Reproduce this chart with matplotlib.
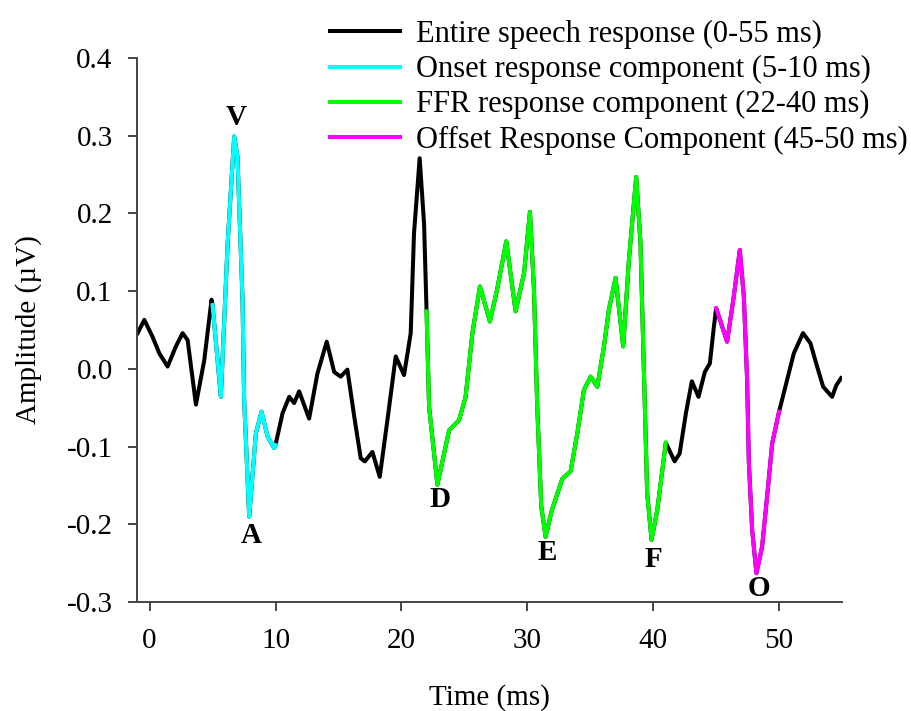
import numpy as np
import matplotlib.pyplot as plt

plt.rcParams['font.family'] = ['Liberation Serif', 'DejaVu Serif']

# waveform (time in ms, amplitude in uV)
time_ms = [-0.95, -0.42, 0.24, 0.77, 1.43, 2.09, 2.62, 3.02, 3.68, 4.34,
           4.92, 5.0, 5.66, 6.2, 6.72, 6.98, 7.38, 7.51, 7.91, 8.44,
           8.89, 9.37, 9.89, 10.0, 10.56, 11.09, 11.48, 11.88, 12.67, 13.33,
           14.07, 14.66, 15.18, 15.71, 16.25, 16.77, 17.09, 17.7, 18.28, 18.89,
           19.55, 20.21, 20.74, 21.0, 21.45, 21.8, 22.0, 22.2, 22.86, 23.79,
           24.58, 25.1, 25.64, 26.24, 27.03, 27.6, 28.33, 29.07, 29.74, 30.21,
           30.53, 30.79, 31.11, 31.45, 31.9, 32.4, 32.8, 33.44, 33.97, 34.5,
           35.03, 35.56, 36.09, 36.48, 37.01, 37.62, 38.07, 38.65, 38.99, 39.31,
           39.52, 39.87, 40.32, 41.0, 41.7, 42.1, 42.6, 43.07, 43.6, 44.1,
           44.5, 44.82, 45.0, 45.87, 46.4, 46.88, 47.2, 47.46, 47.6, 47.86,
           48.2, 48.65, 49.05, 49.45, 50.0, 50.64, 51.17, 51.9, 52.49, 53.02,
           53.5, 54.21, 54.55, 54.92]
amplitude = [0.046, 0.063, 0.041, 0.020, 0.003, 0.029, 0.046, 0.037, -0.046, 0.011,
             0.089, 0.082, -0.036, 0.162, 0.299, 0.273, 0.089, -0.040, -0.190, -0.083,
             -0.055, -0.087, -0.102, -0.098, -0.057, -0.036, -0.044, -0.029, -0.064, -0.006,
             0.035, -0.004, -0.010, -0.001, -0.061, -0.115, -0.119, -0.107, -0.139, -0.066,
             0.016, -0.008, 0.046, 0.174, 0.271, 0.187, 0.074, -0.049, -0.149, -0.079,
             -0.066, -0.036, 0.046, 0.106, 0.061, 0.102, 0.164, 0.074, 0.123, 0.202,
             0.102, -0.049, -0.177, -0.216, -0.185, -0.160, -0.141, -0.132, -0.083, -0.027,
             -0.010, -0.023, 0.029, 0.076, 0.117, 0.029, 0.140, 0.247, 0.162, -0.031,
             -0.160, -0.220, -0.182, -0.095, -0.119, -0.109, -0.057, -0.016, -0.036, -0.004,
             0.007, 0.054, 0.078, 0.035, 0.093, 0.153, 0.093, -0.014, -0.121, -0.207,
             -0.263, -0.229, -0.164, -0.096, -0.055, -0.014, 0.020, 0.046, 0.033, 0.003,
             -0.023, -0.036, -0.021, -0.012]

full_label = 'Entire speech response (0-55 ms)'
seg_labels = ['Onset response component (5-10 ms)',
              'FFR response component (22-40 ms)',
              'Offset Response Component (45-50 ms)']
seg_start = [5, 22, 45]
seg_end = [10, 41, 50]
seg_colors = ['#00ffff', '#00ff00', '#ff00ff']

peak_names = ['V', 'A', 'D', 'E', 'F', 'O']
peak_times = [6.72, 7.91, 22.86, 31.45, 39.87, 48.2]
peak_offsets = [14, -14, -11, -11, -14, -11]  # points, label above/below the peak

t = np.array(time_ms)
a = np.array(amplitude)

fig = plt.figure(figsize=(9.11, 7.11), dpi=100)
ax = fig.add_axes([0.1504, 0.1533, 0.7739, 0.7651])

ax.plot(t, a, color='black', lw=2.9, label=full_label, zorder=2)
for lo, hi, c, lab in zip(seg_start, seg_end, seg_colors, seg_labels):
    m = (t >= lo) & (t <= hi)
    ax.plot(t[m], a[m], color=c, lw=2.9, label=lab, zorder=3)

for name, pt, off in zip(peak_names, peak_times, peak_offsets):
    i = np.argmin(np.abs(t - pt))
    ax.annotate(name, xy=(t[i], a[i]), xytext=(1.5, off), textcoords='offset points',
                ha='center', va='center', fontsize=21, fontweight='bold')

ax.set_xlim(-1, 55)
ax.set_ylim(-0.3, 0.4)
ax.set_xticks([0, 10, 20, 30, 40, 50])
ax.set_yticks(np.arange(-0.3, 0.41, 0.1))
ax.set_yticklabels([f'{v:.1f}' for v in np.arange(-0.3, 0.41, 0.1)])

for s in ['top', 'right']:
    ax.spines[s].set_visible(False)
for s in ['left', 'bottom']:
    ax.spines[s].set_color('#444444')
    ax.spines[s].set_linewidth(1.4)
ax.tick_params(axis='both', direction='out', length=6.5, width=1.4, color='#444444',
               labelsize=21)
ax.tick_params(axis='x', pad=12)
ax.tick_params(axis='y', pad=11)

ax.set_xlabel('Time (ms)', fontsize=21)
ax.set_ylabel('Amplitude (µV)', fontsize=21)
ax.xaxis.set_label_coords(0.5, -0.15)
ax.yaxis.set_label_coords(-0.135, 0.5)

fig.legend(loc='upper left', bbox_to_anchor=(330 / 911, 1 - 20 / 711), frameon=False,
           fontsize=22, handlelength=2.3, handletextpad=0.52, labelspacing=0.2,
           borderpad=0, borderaxespad=0)

fig.savefig('out.png', dpi=100)
